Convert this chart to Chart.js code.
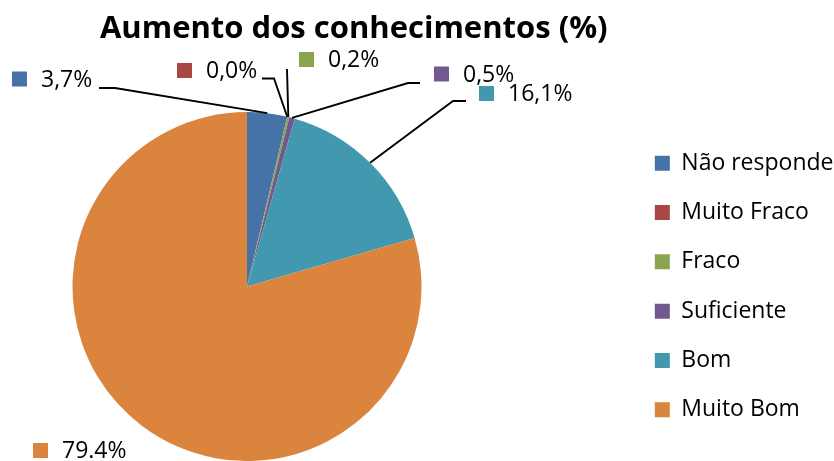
<!DOCTYPE html>
<html>
<head>
<meta charset="utf-8">
<script src="https://cdn.jsdelivr.net/npm/chart.js@4.4.1/dist/chart.umd.min.js"></script>
<style>
  html, body { margin: 0; padding: 0; background: #fff; }
  #wrap { width: 834px; height: 461px; }
</style>
</head>
<body>
<div id="wrap"><canvas id="chart"></canvas></div>
<script>
const categories = ['Não responde', 'Muito Fraco', 'Fraco', 'Suficiente', 'Bom', 'Muito Bom'];
const values = [3.7, 0.0, 0.2, 0.5, 16.1, 79.4];
const valueLabels = ['3,7%', '0,0%', '0,2%', '0,5%', '16,1%', '79.4%'];
const colors = ['#4572A7', '#AA4643', '#89A54E', '#71588F', '#4198AF', '#DB843D'];

// where each data label sits (swatch left, centre y) and where its leader starts
const labelSpots = [[12, 79], [177, 70.5], [299, 59.5], [434, 74], [479, 93.5], [33, 450.5]];
const leaders = [[99, 88, 115], [262, 78.5, 274], [287, 69, 287], [420, 83, 408], [466, 101, 453], null];
const PIE_CENTER_X = 247;

const FONT = '"Open Sans", "DejaVu Sans", sans-serif';
Chart.defaults.font.family = FONT;
Chart.defaults.color = '#000';

// the pie sits well left of the legend, so stretch the plot area leftwards
const pieArea = {
  id: 'pieArea',
  afterLayout(chart) {
    const a = chart.chartArea;
    a.left = 2 * PIE_CENTER_X - a.right;
    a.width = a.right - a.left;
  }
};

// --- data labels with colour key and leader lines ---
const dataLabels = {
  id: 'dataLabels',
  afterDatasetsDraw(chart) {
    const ctx = chart.ctx;
    const arcs = chart.getDatasetMeta(0).data;
    ctx.save();
    arcs.forEach((arc, i) => {
      const {x, y, startAngle, endAngle, outerRadius} =
        arc.getProps(['x', 'y', 'startAngle', 'endAngle', 'outerRadius'], true);
      const mid = (startAngle + endAngle) / 2;
      const px = x + Math.cos(mid) * outerRadius;
      const py = y + Math.sin(mid) * outerRadius;
      const lead = leaders[i];
      if (lead) {
        ctx.beginPath();
        ctx.moveTo(lead[0], lead[1]);
        ctx.lineTo(lead[2], lead[1]);
        ctx.lineTo(px, py);
        ctx.strokeStyle = '#000';
        ctx.lineWidth = 1.9;
        ctx.stroke();
      }
      const [sx, sy] = labelSpots[i];
      ctx.fillStyle = colors[i];
      ctx.fillRect(sx, sy - 7.5, 15, 15);
      ctx.fillStyle = '#000';
      ctx.font = '23px ' + FONT;
      ctx.textBaseline = 'middle';
      ctx.textAlign = 'left';
      ctx.fillText(valueLabels[i], sx + 29, sy + 1);
    });
    ctx.restore();
  }
};

new Chart(document.getElementById('chart'), {
  type: 'pie',
  data: {
    labels: categories,
    datasets: [{
      data: values,
      backgroundColor: colors,
      borderWidth: 0,
      hoverOffset: 0,
      clip: false
    }]
  },
  options: {
    responsive: true,
    maintainAspectRatio: false,
    animation: false,
    layout: { padding: { left: -136, right: -9.5, top: 0, bottom: -1 } },
    plugins: {
      title: {
        display: true,
        text: 'Aumento dos conhecimentos (%)',
        font: { size: 31, weight: 'bold' },
        color: '#000',
        padding: { top: 10.4, bottom: 64.4 }
      },
      legend: {
        position: 'right',
        fullSize: false,
        labels: {
          boxWidth: 15,
          boxHeight: 15,
          padding: 26.3,
          color: '#000',
          font: { size: 23 }
        }
      },
      tooltip: { enabled: false }
    }
  },
  plugins: [pieArea, dataLabels]
});
</script>
</body>
</html>
